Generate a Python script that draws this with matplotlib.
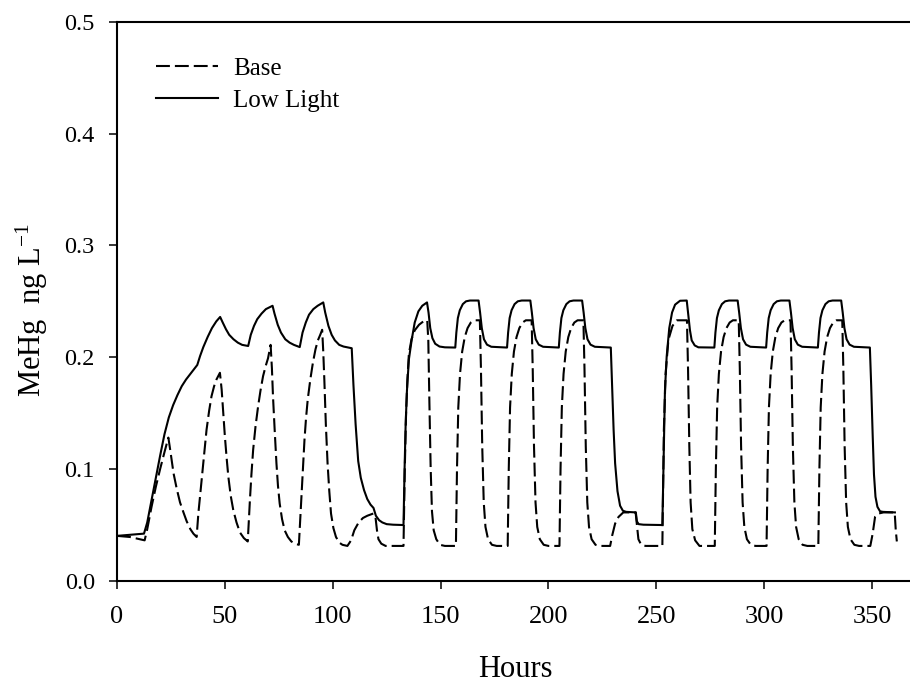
import numpy as np
import matplotlib
matplotlib.use("Agg")
import matplotlib.pyplot as plt

plt.rcParams["font.family"] = ["Liberation Serif", "DejaVu Serif"]
plt.rcParams["mathtext.fontset"] = "custom"
plt.rcParams["mathtext.rm"] = "Liberation Serif"
plt.rcParams["mathtext.it"] = "Liberation Serif:italic"
plt.rcParams["lines.scale_dashes"] = False

# ---- Base scenario (dashed) ----
base_hours_1 = [0, 6, 12.8,
                14, 16, 18, 20, 22, 23.8,
                24.8, 26.2, 27.7, 29.2, 30.8, 32.3, 34, 35.4, 36.9,
                37.7, 38.5, 39.2, 40.4, 41.5, 42.7, 43.8, 45, 46.1, 47.7,
                48.5, 49.2, 50, 50.8, 51.6, 52.7, 53.9, 55.4, 57, 58.8, 60.6,
                61.6, 62.3, 63.1, 64.2, 65.4, 66.5, 67.7, 68.9, 70, 71.2,
                71.8, 72.3, 73.1, 73.9, 74.6, 75.4, 76.5, 77.7, 79.2, 80.8, 82.5, 84.3,
                85.4, 86.2, 86.9, 87.6, 88.4, 89.6, 90.8, 92, 93.1, 94.2, 95.1,
                95.6, 96.1, 96.8, 97.6, 98.4, 99.2, 100.3, 101.5, 103, 104.5, 106.8,
                108.5, 110, 112, 114, 116, 118.8, 119.8, 120.5, 121.2, 122.5, 124.5, 132.8]
base_mehg_1 = [0.040, 0.039, 0.036,
               0.046, 0.066, 0.084, 0.100, 0.115, 0.128,
               0.115, 0.096, 0.082, 0.070, 0.061, 0.053, 0.046, 0.042, 0.039,
               0.060, 0.076, 0.091, 0.115, 0.135, 0.152, 0.165, 0.174, 0.180, 0.186,
               0.171, 0.152, 0.129, 0.110, 0.093, 0.076, 0.063, 0.052, 0.043, 0.038, 0.035,
               0.072, 0.095, 0.117, 0.138, 0.156, 0.170, 0.183, 0.192, 0.199, 0.211,
               0.190, 0.165, 0.134, 0.105, 0.085, 0.069, 0.055, 0.045, 0.039, 0.035, 0.033, 0.032,
               0.072, 0.100, 0.126, 0.145, 0.162, 0.180, 0.195, 0.207, 0.215, 0.220, 0.2245,
               0.205, 0.180, 0.140, 0.105, 0.080, 0.060, 0.047, 0.039, 0.034, 0.032, 0.031,
               0.036, 0.045, 0.052, 0.056, 0.058, 0.060, 0.057, 0.045, 0.037, 0.033, 0.031, 0.031]

base_hours_2 = [133.4, 134, 134.6, 135.3, 136.5, 138, 140, 142, 143.8,
                144.3, 144.8, 145.4, 146, 146.8, 148, 149.7, 152,
                157.1, 157.6, 158.2, 159.0, 160.0, 161.2, 162.5, 164.0, 165.5, 168.2,
                168.7, 169.3, 170.0, 170.8, 172.0, 173.8, 176.0,
                181.1, 181.6, 182.2, 183.0, 184.0, 185.2, 186.5, 188.0, 189.5, 192.2,
                192.7, 193.3, 194.0, 194.8, 196.0, 197.8, 200.0,
                205.1, 205.6, 206.2, 207.0, 208.0, 209.2, 210.5, 212.0, 213.5, 216.2,
                216.7, 217.3, 218.0, 218.8, 220.0, 221.8, 224.0,
                228.6, 229.5, 230.9, 232.5, 234.7, 240.4, 241.0, 241.7, 243, 245, 252.8]
base_mehg_2 = [0.100, 0.150, 0.180, 0.203, 0.216, 0.224, 0.229, 0.232, 0.233,
               0.215, 0.160, 0.100, 0.062, 0.045, 0.037, 0.032, 0.031,
               0.031, 0.100, 0.155, 0.185, 0.205, 0.218, 0.226, 0.231, 0.233, 0.233,
               0.190, 0.120, 0.070, 0.048, 0.037, 0.032, 0.031,
               0.031, 0.100, 0.155, 0.185, 0.205, 0.218, 0.226, 0.231, 0.233, 0.233,
               0.190, 0.120, 0.070, 0.048, 0.037, 0.032, 0.031,
               0.031, 0.100, 0.155, 0.185, 0.205, 0.218, 0.226, 0.231, 0.233, 0.233,
               0.190, 0.120, 0.070, 0.048, 0.037, 0.032, 0.031,
               0.031, 0.040, 0.051, 0.057, 0.061, 0.061, 0.050, 0.037, 0.032, 0.031, 0.031]

base_hours_3 = [253.2, 253.5, 254.3, 255.6, 257.5, 259.5, 264.2,
                264.7, 265.3, 265.9, 266.7, 268, 270,
                277.1, 277.6, 278.2, 279.0, 280.0, 281.2, 282.5, 284.0, 285.5, 288.2,
                288.7, 289.3, 290.0, 290.8, 292.0, 293.8, 296.0,
                301.1, 301.6, 302.2, 303.0, 304.0, 305.2, 306.5, 308.0, 309.5, 312.2,
                312.7, 313.3, 314.0, 314.8, 316.0, 317.8, 320.0,
                325.1, 325.6, 326.2, 327.0, 328.0, 329.2, 330.5, 332.0, 333.5, 336.2,
                336.7, 337.3, 338.0, 338.8, 340.0, 341.8, 344.0,
                349.2, 350.3, 351.4, 353, 355.3, 360.5, 361.0, 361.5]
base_mehg_3 = [0.090, 0.135, 0.185, 0.2155, 0.228, 0.233, 0.233,
               0.190, 0.120, 0.070, 0.046, 0.036, 0.031,
               0.031, 0.100, 0.155, 0.185, 0.205, 0.218, 0.226, 0.231, 0.233, 0.233,
               0.190, 0.120, 0.070, 0.048, 0.037, 0.032, 0.031,
               0.031, 0.100, 0.155, 0.185, 0.205, 0.218, 0.226, 0.231, 0.233, 0.233,
               0.190, 0.120, 0.070, 0.048, 0.037, 0.032, 0.031,
               0.031, 0.100, 0.155, 0.185, 0.205, 0.218, 0.226, 0.231, 0.233, 0.233,
               0.190, 0.120, 0.070, 0.048, 0.037, 0.032, 0.031,
               0.031, 0.042, 0.057, 0.060, 0.061, 0.061, 0.045, 0.035]

# ---- Low Light scenario (solid) ----
low_hours_1 = [0, 6, 12.5, 14, 16, 18, 20, 22, 24, 26, 28, 30, 32, 34, 36, 37.2,
               38.5, 40, 42, 44, 46, 47.8,
               49, 50.5, 52, 54, 56, 58, 60.8,
               62, 63.5, 65, 67, 69, 71, 72.1,
               73, 74.5, 76, 78, 80, 82, 84.7,
               86, 87.5, 89, 91, 93, 95.6,
               96.5, 98, 99.5, 101, 103, 105, 108.8,
               109.6, 110.6, 111.8, 113, 114.5, 116, 117.5, 118.9, 120, 121.5, 123, 125, 128, 132.8]
low_mehg_1 = [0.040, 0.041, 0.042, 0.052, 0.072, 0.092, 0.112, 0.131, 0.146, 0.157, 0.166,
              0.174, 0.180, 0.185, 0.190, 0.193,
              0.201, 0.209, 0.218, 0.226, 0.232, 0.236,
              0.231, 0.225, 0.220, 0.216, 0.213, 0.211, 0.210,
              0.220, 0.228, 0.234, 0.239, 0.243, 0.245, 0.246,
              0.239, 0.229, 0.222, 0.216, 0.213, 0.211, 0.209,
              0.222, 0.231, 0.238, 0.243, 0.246, 0.249,
              0.240, 0.228, 0.220, 0.215, 0.211, 0.2095, 0.208,
              0.175, 0.140, 0.107, 0.092, 0.081, 0.073, 0.068, 0.065, 0.058, 0.054, 0.052,
              0.0505, 0.050, 0.0497]

low_hours_2 = [133.3, 133.8, 134.4, 135.3, 136.6, 138, 139.7, 141.5, 143.7,
               144.4, 145.2, 146.2, 147.5, 149.5, 152,
               156.8, 157.3, 158.0, 158.9, 160.3, 161.8, 163.6, 167.6,
               168.3, 169.1, 170.1, 171.5, 173.5,
               180.8, 181.3, 182.0, 182.9, 184.3, 185.8, 187.6, 191.6,
               192.3, 193.1, 194.1, 195.5, 197.5,
               204.8, 205.3, 206.0, 206.9, 208.3, 209.8, 211.6, 215.6,
               216.3, 217.1, 218.1, 219.5, 221.5,
               228.9, 229.5, 230.2, 230.9, 232, 233.2, 234.5, 236, 240.5, 241, 241.8, 244, 252.8]
low_mehg_2 = [0.100, 0.140, 0.170, 0.198, 0.2155, 0.231, 0.241, 0.246, 0.249,
              0.240, 0.226, 0.217, 0.212, 0.2095, 0.2088,
              0.2086, 0.222, 0.235, 0.242, 0.2475, 0.2500, 0.2507, 0.2507,
              0.240, 0.226, 0.216, 0.2112, 0.2093,
              0.2086, 0.222, 0.235, 0.242, 0.2475, 0.2500, 0.2507, 0.2507,
              0.240, 0.226, 0.216, 0.2112, 0.2093,
              0.2086, 0.222, 0.235, 0.242, 0.2475, 0.2500, 0.2507, 0.2507,
              0.240, 0.226, 0.216, 0.2112, 0.2093,
              0.2086, 0.175, 0.135, 0.105, 0.080, 0.067, 0.0625, 0.0615, 0.061, 0.053,
              0.0505, 0.050, 0.0497]

low_hours_3 = [253.5, 254, 254.8, 256, 257.3, 258.7, 261, 264.1,
               264.8, 265.6, 266.4, 267.8, 269.5,
               276.9, 277.4, 278.1, 279.0, 280.4, 281.9, 283.7, 287.7,
               288.4, 289.2, 290.2, 291.6, 293.6,
               300.9, 301.4, 302.1, 303.0, 304.4, 305.9, 307.7, 311.7,
               312.4, 313.2, 314.2, 315.6, 317.6,
               324.9, 325.4, 326.1, 327.0, 328.4, 329.9, 331.7, 335.7,
               336.4, 337.2, 338.2, 339.6, 341.6,
               349.0, 349.6, 350.3, 350.9, 351.6, 352.5, 353.7, 355, 360.6]
low_mehg_3 = [0.120, 0.170, 0.2005, 0.226, 0.240, 0.247, 0.2505, 0.2507,
              0.238, 0.224, 0.215, 0.2105, 0.2088,
              0.2086, 0.222, 0.235, 0.242, 0.2475, 0.2500, 0.2507, 0.2507,
              0.240, 0.226, 0.216, 0.2112, 0.2093,
              0.2086, 0.222, 0.235, 0.242, 0.2475, 0.2500, 0.2507, 0.2507,
              0.240, 0.226, 0.216, 0.2112, 0.2093,
              0.2086, 0.222, 0.235, 0.242, 0.2475, 0.2500, 0.2507, 0.2507,
              0.240, 0.226, 0.216, 0.2112, 0.2093,
              0.2086, 0.175, 0.130, 0.095, 0.075, 0.066, 0.062, 0.0615, 0.061]

x_ticks = [0, 50, 100, 150, 200, 250, 300, 350]
y_ticks = [0.0, 0.1, 0.2, 0.3, 0.4, 0.5]

base_hours = np.array(base_hours_1 + base_hours_2 + base_hours_3)
base_mehg = np.array(base_mehg_1 + base_mehg_2 + base_mehg_3)
low_hours = np.array(low_hours_1 + low_hours_2 + low_hours_3)
low_mehg = np.array(low_mehg_1 + low_mehg_2 + low_mehg_3)

fig = plt.figure(figsize=(9.1, 6.83), dpi=100)
ax = fig.add_axes([0.1286, 0.150, 0.8714, 0.8177])

ax.plot(base_hours, base_mehg, color="black", lw=1.5, ls=(0, (10, 3.6)), label="Base")
ax.plot(low_hours, low_mehg, color="black", lw=1.5, label="Low Light")

ax.set_xlim(0, 367.6)
ax.set_ylim(0, 0.5)
ax.set_xticks(x_ticks)
ax.set_yticks(y_ticks)
ax.set_yticklabels([f"{v:.1f}" for v in y_ticks])

for side in ("left", "bottom", "top"):
    ax.spines[side].set_linewidth(1.5)
ax.spines["right"].set_visible(False)

ax.tick_params(axis="both", direction="out", length=6, width=1.1)
ax.tick_params(axis="x", pad=12, labelsize=19)
ax.tick_params(axis="y", pad=10, labelsize=17.5)

ax.set_xlabel("Hours", fontsize=22)
ax.xaxis.set_label_coords(0.5025, -0.1728)
ax.xaxis.label.set_va("baseline")
ax.set_ylabel("MeHg  ng L$^{-1}$", fontsize=22)
ax.yaxis.set_label_coords(-0.0845, 0.484)

ax.legend(loc="upper left", bbox_to_anchor=(0.049, 0.937), frameon=False,
          fontsize=18, handlelength=2.5, handletextpad=0.6, labelspacing=0.38,
          borderpad=0, borderaxespad=0)

fig.savefig("out.png", dpi=100)
